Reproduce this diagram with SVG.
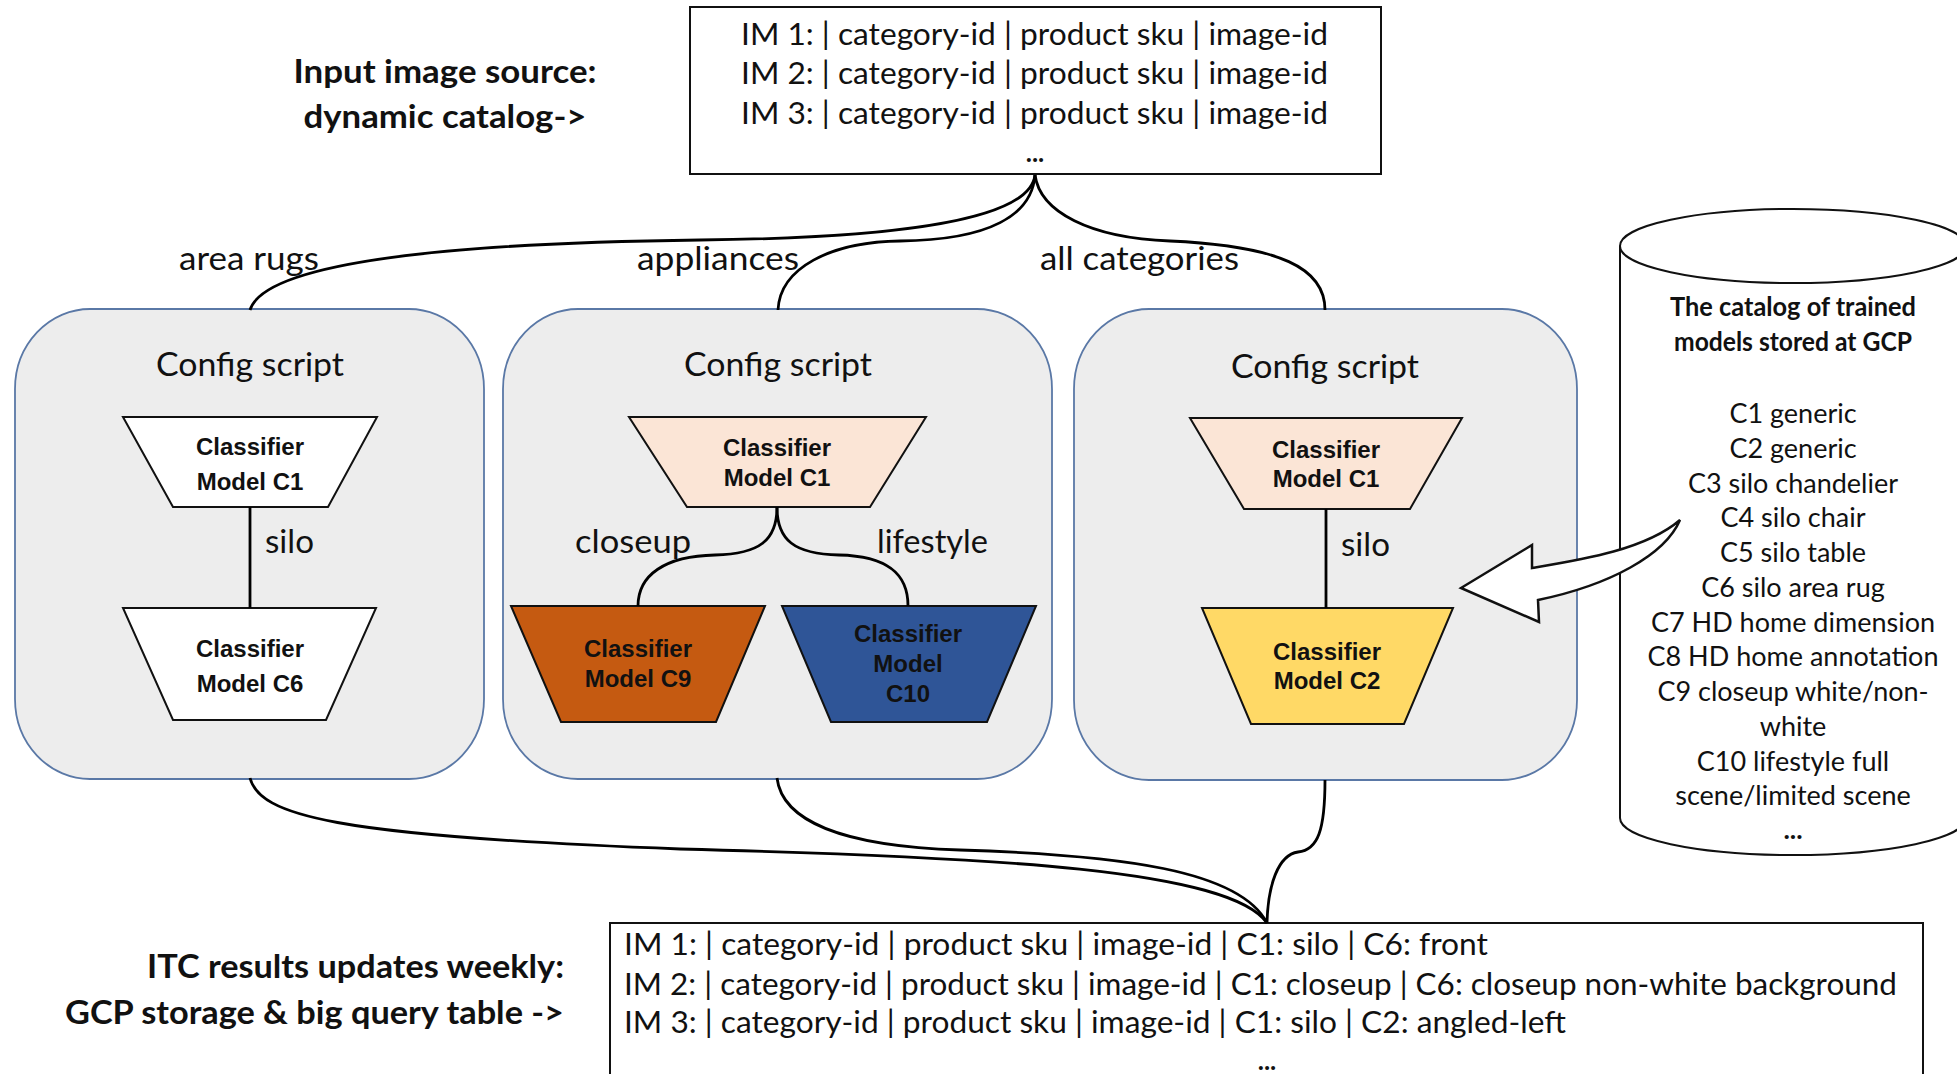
<svg xmlns="http://www.w3.org/2000/svg" width="1957" height="1074" viewBox="0 0 1957 1074">
<defs>
<style>
.t{font-family:Lato,"Open Sans","Liberation Sans",sans-serif;fill:#111;dominant-baseline:central}
.tb{font-family:Lato,"Open Sans","Liberation Sans",sans-serif;font-weight:bold;fill:#111;dominant-baseline:central}
.m{font-family:"Liberation Sans",Arial,sans-serif;font-weight:bold;font-size:24px;fill:#111;text-anchor:middle;dominant-baseline:central}
.cfg{fill:#EDEDED;stroke:#5A78A6;stroke-width:1.8}
.trap{stroke:#111;stroke-width:2}
.box{fill:#fff;stroke:#111;stroke-width:2}
.conn{fill:none;stroke:#000;stroke-width:2.8}
.c{text-anchor:middle}
</style>
</defs>
<rect width="1957" height="1074" fill="#fff"/>

<g id="input-label">
<text class="tb c" x="445" y="70" font-size="33" textLength="303" lengthAdjust="spacingAndGlyphs">Input image source:</text>
<text class="tb c" x="445" y="115" font-size="33" textLength="283" lengthAdjust="spacingAndGlyphs">dynamic catalog-&gt;</text>
</g>

<g id="input-box">
<rect class="box" x="690" y="7" width="691" height="167"/>
<text class="t" x="741" y="33" font-size="30" textLength="587" lengthAdjust="spacingAndGlyphs">IM 1: | category-id | product sku | image-id</text>
<text class="t" x="741" y="72" font-size="30" textLength="587" lengthAdjust="spacingAndGlyphs">IM 2: | category-id | product sku | image-id</text>
<text class="t" x="741" y="112" font-size="30" textLength="587" lengthAdjust="spacingAndGlyphs">IM 3: | category-id | product sku | image-id</text>
<text class="tb c" x="1035" y="152" font-size="26">...</text>
</g>

<g id="edge-labels">
<text class="t" x="179" y="257" font-size="32" textLength="140" lengthAdjust="spacingAndGlyphs">area rugs</text>
<text class="t" x="637" y="257" font-size="32" textLength="162" lengthAdjust="spacingAndGlyphs">appliances</text>
<text class="t" x="1040" y="257" font-size="32" textLength="199" lengthAdjust="spacingAndGlyphs">all categories</text>
</g>

<g id="config-area-rugs">
<rect class="cfg" x="15" y="309" width="469" height="470" rx="75" ry="80"/>
<text class="t c" x="250" y="363" font-size="33" textLength="188" lengthAdjust="spacingAndGlyphs">Config script</text>
<g id="c1-left">
<polygon class="trap" fill="#fff" points="123,417 377,417 328,507 173,507"/>
<text class="m" x="250" y="446">Classifier</text>
<text class="m" x="250" y="481">Model C1</text>
</g>
<text class="t" x="265" y="540" font-size="32" textLength="49" lengthAdjust="spacingAndGlyphs">silo</text>
<g id="c6-left">
<polygon class="trap" fill="#fff" points="123,608 376,608 326,720 173,720"/>
<text class="m" x="250" y="648">Classifier</text>
<text class="m" x="250" y="683">Model C6</text>
</g>
</g>

<g id="config-appliances">
<rect class="cfg" x="503" y="309" width="549" height="470" rx="75" ry="80"/>
<text class="t c" x="778" y="363" font-size="33" textLength="188" lengthAdjust="spacingAndGlyphs">Config script</text>
<g id="c1-mid">
<polygon class="trap" fill="#FBE5D6" points="629,417 926,417 870,507 687,507"/>
<text class="m" x="777" y="447">Classifier</text>
<text class="m" x="777" y="477">Model C1</text>
</g>
<text class="t" x="575" y="540" font-size="32" textLength="116" lengthAdjust="spacingAndGlyphs">closeup</text>
<text class="t" x="877" y="540" font-size="32" textLength="111" lengthAdjust="spacingAndGlyphs">lifestyle</text>
<g id="c9">
<polygon class="trap" fill="#C55A11" points="511,606 765,606 716,722 561,722"/>
<text class="m" x="638" y="648">Classifier</text>
<text class="m" x="638" y="678">Model C9</text>
</g>
<g id="c10">
<polygon class="trap" fill="#2F5597" points="782,606 1036,606 987,722 831,722"/>
<text class="m" x="908" y="633">Classifier</text>
<text class="m" x="908" y="663">Model</text>
<text class="m" x="908" y="693">C10</text>
</g>
</g>

<g id="config-all">
<rect class="cfg" x="1074" y="309" width="503" height="471" rx="75" ry="80"/>
<text class="t c" x="1325" y="365" font-size="33" textLength="188" lengthAdjust="spacingAndGlyphs">Config script</text>
<g id="c1-right">
<polygon class="trap" fill="#FBE5D6" points="1190,418 1462,418 1410,509 1244,509"/>
<text class="m" x="1326" y="449">Classifier</text>
<text class="m" x="1326" y="478">Model C1</text>
</g>
<text class="t" x="1341" y="543" font-size="32" textLength="49" lengthAdjust="spacingAndGlyphs">silo</text>
<g id="c2-right">
<polygon class="trap" fill="#FFD966" points="1202,608 1453,608 1404,724 1251,724"/>
<text class="m" x="1327" y="651">Classifier</text>
<text class="m" x="1327" y="680">Model C2</text>
</g>
</g>

<g id="model-catalog">
<path d="M1620,246 L1620,818 A173,37 0 0 0 1966,818 L1966,246" fill="#fff" stroke="#111" stroke-width="2"/>
<ellipse cx="1793" cy="246" rx="173" ry="37" fill="#fff" stroke="#111" stroke-width="2"/>
<text class="tb c" x="1793" y="306" font-size="26" textLength="246" lengthAdjust="spacingAndGlyphs">The catalog of trained</text>
<text class="tb c" x="1793" y="341" font-size="26" textLength="238" lengthAdjust="spacingAndGlyphs">models stored at GCP</text>
<g font-size="27">
<text class="t c" x="1793" y="412">C1 generic</text>
<text class="t c" x="1793" y="447">C2 generic</text>
<text class="t c" x="1793" y="482">C3 silo chandelier</text>
<text class="t c" x="1793" y="516">C4 silo chair</text>
<text class="t c" x="1793" y="551">C5 silo table</text>
<text class="t c" x="1793" y="586">C6 silo area rug</text>
<text class="t c" x="1793" y="621">C7 HD home dimension</text>
<text class="t c" x="1793" y="655">C8 HD home annotation</text>
<text class="t c" x="1793" y="690">C9 closeup white/non-</text>
<text class="t c" x="1793" y="725">white</text>
<text class="t c" x="1793" y="760">C10 lifestyle full</text>
<text class="t c" x="1793" y="794">scene/limited scene</text>
<text class="tb c" x="1793" y="828">...</text>
</g>
</g>

<g id="output-label">
<text class="tb" x="564" y="965" font-size="33" text-anchor="end" textLength="417" lengthAdjust="spacingAndGlyphs">ITC results updates weekly:</text>
<text class="tb" x="564" y="1011" font-size="33" text-anchor="end" textLength="499" lengthAdjust="spacingAndGlyphs">GCP storage &amp; big query table -&gt;</text>
</g>

<g id="output-box">
<rect class="box" x="610" y="923" width="1313" height="200"/>
<text class="t" x="624" y="943" font-size="30" textLength="864" lengthAdjust="spacingAndGlyphs">IM 1: | category-id | product sku | image-id | C1: silo | C6: front</text>
<text class="t" x="624" y="983" font-size="30" textLength="1273" lengthAdjust="spacingAndGlyphs">IM 2: | category-id | product sku | image-id | C1: closeup | C6: closeup non-white background</text>
<text class="t" x="624" y="1021" font-size="30" textLength="942" lengthAdjust="spacingAndGlyphs">IM 3: | category-id | product sku | image-id | C1: silo | C2: angled-left</text>
<text class="tb c" x="1267" y="1060" font-size="26">...</text>
</g>

<g id="connectors">
<path class="conn" d="M1035,175 C1030,220 900,238 700,240 C450,243 265,262 250,310"/>
<path class="conn" d="M1035,175 C1032,215 990,240 900,241 C830,242 780,268 778,310"/>
<path class="conn" d="M1035,175 C1040,212 1090,238 1170,241 C1280,246 1325,268 1325,310"/>
<path class="conn" d="M250,507 L250,608"/>
<path class="conn" d="M777,507 C777,540 760,554 715,555 C665,556 638,575 638,606"/>
<path class="conn" d="M777,507 C777,540 794,554 839,555 C889,556 908,575 908,606"/>
<path class="conn" d="M1326,509 L1326,608"/>
<path class="conn" d="M250,778 C260,815 330,836 680,849 C1000,857 1230,870 1267,923"/>
<path class="conn" d="M777,778 C782,820 840,846 960,850 C1120,855 1240,870 1267,923"/>
<path class="conn" d="M1325,780 C1325,830 1318,850 1298,852 C1278,855 1268,885 1267,923"/>
</g>

<g id="model-arrow">
<path d="M1461,588 L1532,545 L1532,568 C1580,560 1645,550 1680,520 C1665,555 1610,585 1538,600 L1539,622 Z" fill="#fff" stroke="#111" stroke-width="2.5" stroke-linejoin="miter"/>
</g>
</svg>
